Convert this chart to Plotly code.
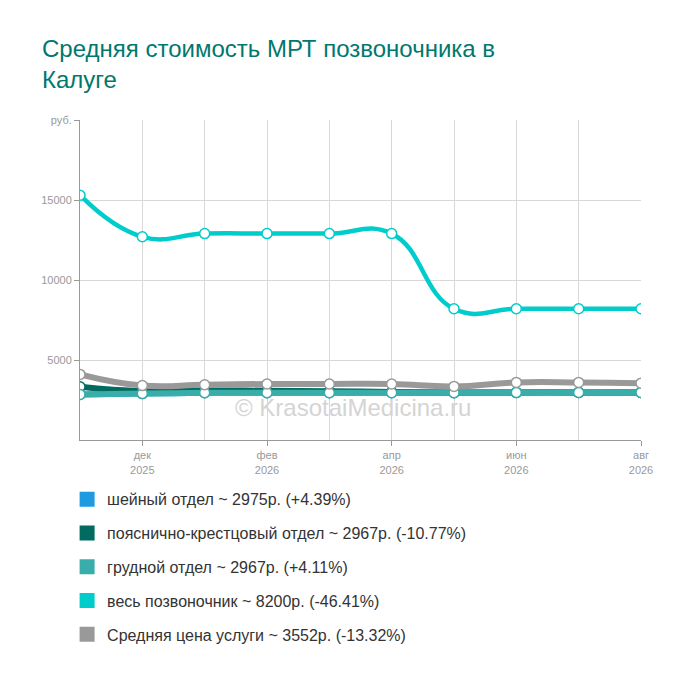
import plotly.graph_objects as go

months = ["ноя<br>2025", "дек<br>2025", "янв<br>2026", "фев<br>2026", "мар<br>2026",
          "апр<br>2026", "май<br>2026", "июн<br>2026", "июл<br>2026", "авг<br>2026"]
shown_ticks = [False, True, False, True, False, True, False, True, False, True]

names = ["шейный отдел ~ 2975р. (+4.39%)",
         "пояснично-крестцовый отдел ~ 2967р. (-10.77%)",
         "грудной отдел ~ 2967р. (+4.11%)",
         "весь позвоночник ~ 8200р. (-46.41%)",
         "Средняя цена услуги ~ 3552р. (-13.32%)"]
colors = ["#1E9BE0", "#006B5E", "#38ADA9", "#00CCCC", "#999999"]

cervical = [2850, 2900, 2950, 2950, 2950, 2950, 2950, 2975, 2975, 2975]
lumbar = [3325, 3050, 3100, 3080, 3050, 3000, 2967, 2967, 2967, 2967]
thoracic = [2850, 2900, 2950, 2950, 2950, 2950, 2950, 2967, 2967, 2967]
whole = [15300, 12700, 12900, 12900, 12900, 12900, 8200, 8200, 8200, 8200]
average = [4098, 3400, 3450, 3500, 3500, 3500, 3350, 3600, 3600, 3552]

series = [cervical, lumbar, thoracic, whole, average]
widths = [6, 6, 6, 4.5, 6]

y_ticks = [5000, 10000, 15000, 20000]
y_labels = ["5000", "10000", "15000", "руб."]

x = list(range(len(months)))
major_vals = [i for i, s in zip(x, shown_ticks) if s]
major_text = [m for m, s in zip(months, shown_ticks) if s]

fig = go.Figure()
for vals, col, w in zip(series, colors, widths):
    fig.add_trace(go.Scatter(
        x=x, y=vals, mode="lines+markers",
        line=dict(color=col, width=w, shape="spline", smoothing=1.3),
        marker=dict(size=10, color="white", line=dict(color=col, width=1.5)),
        showlegend=False, hoverinfo="skip"))

for i, (nm, col) in enumerate(zip(names, colors)):
    fig.add_trace(go.Scatter(
        x=[None], y=[None], mode="markers", name=nm,
        marker=dict(symbol="square", size=15, color=col),
        legendgroup=f"g{i}", showlegend=True))

fig.add_annotation(text="© KrasotaiMedicina.ru", x=0.487, y=0.053, xref="paper", yref="paper",
                   showarrow=False, font=dict(size=24, color="#D4D4D4", family="Liberation Sans, Arial"))

fig.update_layout(
    width=700, height=685,
    margin=dict(l=72, r=67, t=112, b=253),
    paper_bgcolor="white", plot_bgcolor="white",
    font=dict(family="Liberation Sans, Arial, sans-serif"),
    title=dict(text="Средняя стоимость МРТ позвоночника в<br>Калуге",
               x=34/700, xanchor="left", xref="container",
               y=1-49/685, yanchor="top", yref="container",
               font=dict(size=24, color="#00786E")),
    xaxis=dict(range=[0, 9], tickmode="array", tickvals=major_vals, ticktext=major_text,
               showgrid=True, gridcolor="#D8D8D8", gridwidth=1,
               minor=dict(tickmode="array", tickvals=x, showgrid=True, gridcolor="#D8D8D8",
                          gridwidth=1, ticks=""),
               showline=True, linecolor="#999999", linewidth=1,
               ticks="outside", ticklen=5, tickcolor="#999999",
               tickfont=dict(size=11, color="#999999"), zeroline=False, fixedrange=True),
    yaxis=dict(range=[0, 20000], tickmode="array", tickvals=y_ticks, ticktext=y_labels,
               showgrid=True, gridcolor="#D8D8D8", gridwidth=1,
               showline=True, linecolor="#999999", linewidth=1,
               ticks="outside", ticklen=5, tickcolor="#999999",
               tickfont=dict(size=11, color="#999999"), zeroline=False, fixedrange=True),
    legend=dict(x=-0.023, y=-0.132, xanchor="left", yanchor="top", orientation="v",
                font=dict(size=16, color="#333333"), tracegroupgap=10,
                itemwidth=30, bgcolor="rgba(0,0,0,0)"),
)

fig.write_html("out.html")
